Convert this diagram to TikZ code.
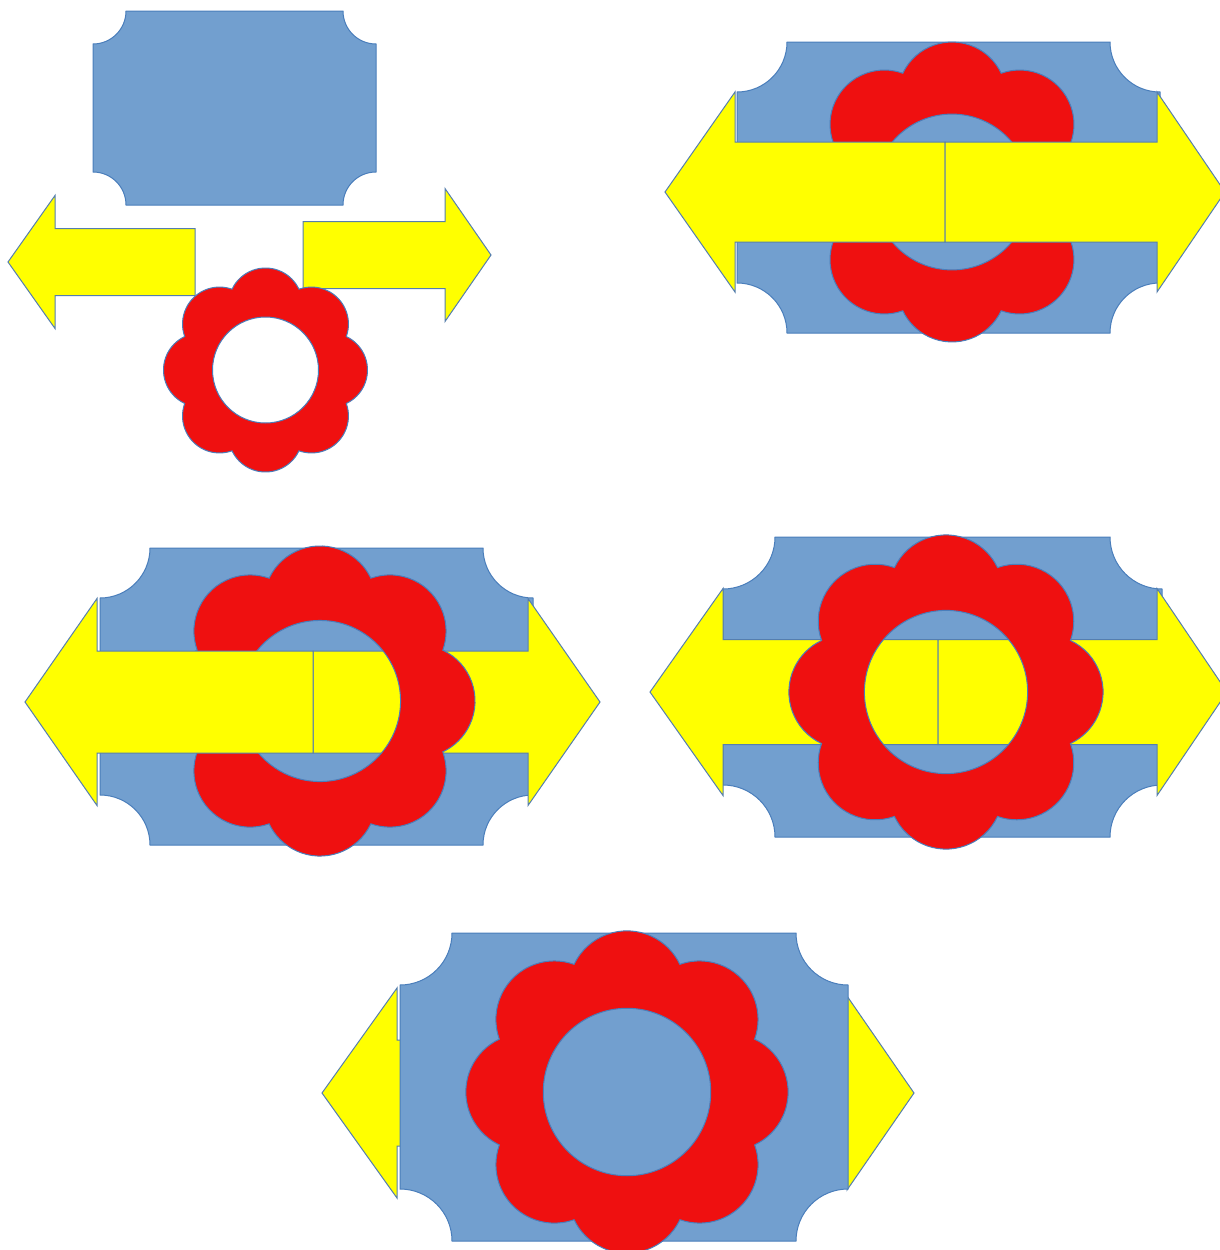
\documentclass[tikz,border=0pt]{standalone}
\usepackage{xcolor}
\usepackage{tikz}
\definecolor{plaqueblue}{HTML}{729FCF}
\definecolor{edgeblue}{HTML}{4A7EBB}
\definecolor{petalred}{HTML}{EF1010}
\definecolor{arrowyellow}{HTML}{FFFF00}
\begin{document}
\begin{tikzpicture}[
  x=1pt,y=-1pt,
  plaquefill/.style={fill=plaqueblue,draw=edgeblue,line width=1pt},
  flowerfill/.style={fill=petalred,draw=edgeblue,line width=1pt,even odd rule},
  arrowfill/.style={fill=arrowyellow,draw=edgeblue!80!gray,line width=1pt},
  pics/plaque/.style n args={3}{code={
    \filldraw[plaquefill] (#3,0) -- (#1-#3,0) arc[start angle=180,end angle=90,radius=#3]
      -- (#1,#2-#3) arc[start angle=270,end angle=180,radius=#3]
      -- (#3,#2) arc[start angle=0,end angle=-90,radius=#3]
      -- (0,#3) arc[start angle=90,end angle=0,radius=#3] -- cycle;
  }},
  pics/flower/.style={code={
    \filldraw[flowerfill] (-22.5:87.44)
      \foreach \a in {0,45,...,315}{arc[start angle=\a-64.75,end angle=\a+64.75,radius=37]}
      -- cycle (0,0) circle[radius=53];
  }},
  pics/leftarrow/.style n args={4}{code={
    \filldraw[arrowfill] (0,0) -- (#2,-#3) -- (#2,-#4) -- (#1,-#4) -- (#1,#4)
      -- (#2,#4) -- (#2,#3) -- cycle;
  }},
  pics/rightarrow/.style n args={4}{code={
    \filldraw[arrowfill] (0,0) -- (-#2,-#3) -- (-#2,-#4) -- (-#1,-#4) -- (-#1,#4)
      -- (-#2,#4) -- (-#2,#3) -- cycle;
  }}
]
\path[use as bounding box,fill=white] (0,0) rectangle (1220,1250);

\pic at (93,11) {plaque={283}{194}{33}};
\pic at (8,262) {leftarrow={187}{47}{66.5}{33.5}};
\pic at (491,255) {rightarrow={188}{46}{66.5}{33.5}};
\pic at (265.5,370) {flower};

\pic at (737,42) {plaque={423}{291}{50}};
\pic[scale=1.47] at (952,192) {flower};
\pic at (665,192) {leftarrow={280}{70}{100}{50}};
\pic at (1225,192) {rightarrow={280}{68}{100}{50}};

\pic at (100,548) {plaque={433}{297}{50}};
\pic at (600,702) {rightarrow={287}{72}{103.5}{51}};
\pic[scale=1.52] at (320,701) {flower};
\pic at (25,702) {leftarrow={288}{72}{103.5}{51}};

\pic at (723,537) {plaque={439}{300}{52}};
\pic at (650,692) {leftarrow={288}{73}{103.5}{52.5}};
\pic at (1227,692) {rightarrow={289}{70}{103.5}{52.5}};
\pic[scale=1.54] at (946,692) {flower};

\pic at (322,1093) {leftarrow={305}{75}{105}{53}};
\pic at (914,1093) {rightarrow={300}{67}{97}{53}};
\pic at (400,933) {plaque={448}{308}{52}};
\pic[scale=1.58] at (627,1092) {flower};
\end{tikzpicture}
\end{document}
